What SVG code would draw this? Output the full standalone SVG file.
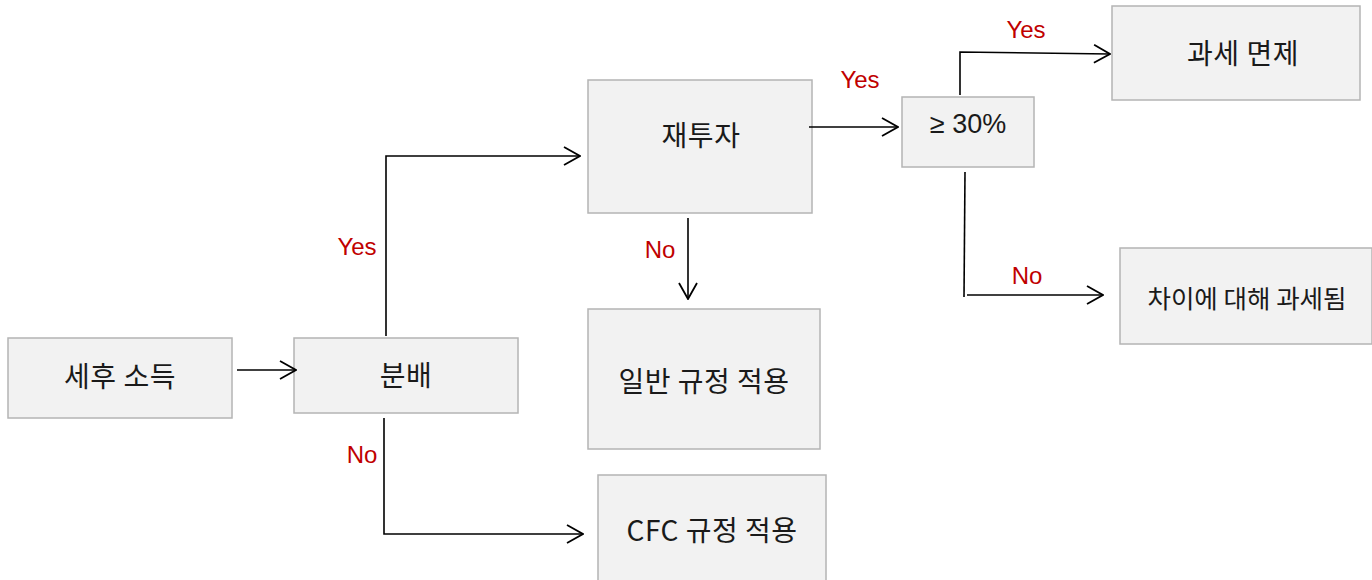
<svg xmlns="http://www.w3.org/2000/svg" width="1372" height="580" viewBox="0 0 1372 580">
<style>
.box{fill:#f2f2f2;stroke:#b4b4b4;stroke-width:1.5}
.t{font-family:"Noto Sans CJK KR","Liberation Sans",sans-serif;font-size:28px;letter-spacing:0.5px;fill:#1a1a1a;text-anchor:middle;dominant-baseline:central}
.lbl{font-family:"Liberation Sans",Arial,sans-serif;font-size:24px;fill:#c00000;text-anchor:middle;dominant-baseline:central}
.ln{fill:none;stroke:#000;stroke-width:1.6}
.c{fill:none;stroke:#000;stroke-width:1.6;marker-end:url(#ah)}
</style>
<defs>
<marker id="ah" viewBox="0 0 20 20" refX="19" refY="10" markerWidth="20" markerHeight="20" markerUnits="userSpaceOnUse" orient="auto">
<path d="M3,1 L19,10 L3,19" fill="none" stroke="#000" stroke-width="1.8"/>
</marker>
</defs>
<g id="n1"><rect class="box" x="8" y="338" width="224" height="80"/><text class="t" x="120" y="375">세후 소득</text></g>
<g id="n2"><rect class="box" x="294" y="338" width="224" height="75"/><text class="t" x="406" y="374">분배</text></g>
<g id="n3"><rect class="box" x="588" y="80" width="224" height="133"/><text class="t" x="701" y="134">재투자</text></g>
<g id="n4"><rect class="box" x="902" y="97" width="132" height="70"/><text class="t" x="968" y="124" style="font-family:'Liberation Sans',Arial,sans-serif;font-size:27px;letter-spacing:0">≥ 30%</text></g>
<g id="n5"><rect class="box" x="1112" y="6" width="248" height="94"/><text class="t" x="1243" y="52">과세 면제</text></g>
<g id="n6"><rect class="box" x="1120" y="248" width="252" height="96"/><text class="t" x="1247" y="296" style="font-size:25.5px;letter-spacing:0">차이에 대해 과세됨</text></g>
<g id="n7"><rect class="box" x="588" y="309" width="232" height="140"/><text class="t" x="704" y="380">일반 규정 적용</text></g>
<g id="n8"><rect class="box" x="598" y="475" width="228" height="110"/><text class="t" x="712" y="529">CFC 규정 적용</text></g>
<g id="connectors">
<path class="c" d="M237,370 H296"/>
<path class="c" d="M386,336 V156 H580"/>
<path class="c" d="M384,418 V534 H583"/>
<path class="c" d="M688,218 V299"/>
<path class="c" d="M809,127 H898"/>
<path class="c" d="M960,95 V52 L1110,54"/>
<path class="ln" d="M965,172 L964,297"/>
<path class="c" d="M967,295 H1103"/>
</g>
<g id="labels">
<text class="lbl" x="357" y="246">Yes</text>
<text class="lbl" x="362" y="454">No</text>
<text class="lbl" x="660" y="249">No</text>
<text class="lbl" x="860" y="79">Yes</text>
<text class="lbl" x="1026" y="29">Yes</text>
<text class="lbl" x="1027" y="275">No</text>
</g>
</svg>
